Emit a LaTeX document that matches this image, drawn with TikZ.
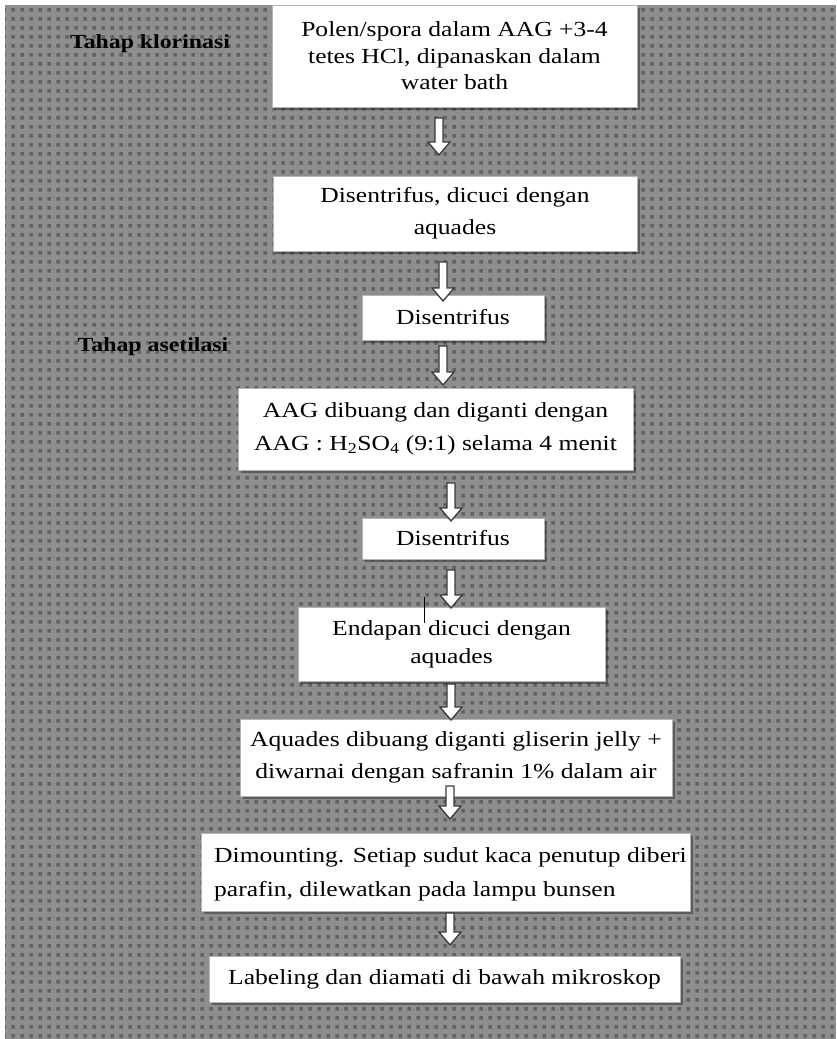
\documentclass[tikz,border=0pt]{standalone}
\usepackage{fontspec}
\setmainfont{Liberation Serif}[FakeStretch=1.19]
\usetikzlibrary{patterns,shadows}
\pgfdeclarepatternformonly{gdots}{\pgfpoint{0pt}{0pt}}{\pgfpoint{9pt}{9pt}}{\pgfpoint{9pt}{9pt}}{%
  \pgfpathrectangle{\pgfpoint{2.5pt}{2.5pt}}{\pgfpoint{4pt}{4pt}}\pgfusepath{fill}}
\definecolor{bggray}{HTML}{8E8E8E}
\definecolor{dotgray}{HTML}{626262}
\definecolor{edgegray}{HTML}{B5B5B5}
\definecolor{arrowgray}{HTML}{3A3A3A}
\tikzset{
  box/.style={draw=edgegray, line width=0.8pt, fill=white, inner sep=0pt,
    drop shadow={shadow xshift=3pt, shadow yshift=-3pt, fill=black, opacity=0.35}},
  boxtext/.style={align=center, inner sep=0pt, font=\fontsize{21.5}{30}\selectfont},
  phase/.style={inner sep=0pt, font=\bfseries\fontsize{20}{24}\selectfont},
  arrowline/.style={draw=arrowgray, line width=1.3pt, fill=white, line join=miter},
  pics/darrow/.style={code={
    \draw[arrowline] (-4,0) -- (4,0) -- (4,#1-13) -- (11,#1-13) -- (0,#1)
      -- (-11,#1-13) -- (-4,#1-13) -- cycle;
  }}
}
\begin{document}
\begin{tikzpicture}[x=1pt,y=-1pt]
\useasboundingbox (0,0) rectangle (836,1039);
\fill[white] (0,0) rectangle (836,1039);
\fill[bggray] (5,5) rectangle (836,1039);
\fill[pattern=gdots, pattern color=dotgray] (5,5) rectangle (836,1039);

% boxes
\node[box, minimum width=365, minimum height=102] (b1) at (454.5,56) {};
\node[box, minimum width=364, minimum height=75] (b2) at (455,213.5) {};
\node[box, minimum width=182, minimum height=45] (b3) at (453,317.5) {};
\node[box, minimum width=395, minimum height=82] (b4) at (435.5,429) {};
\node[box, minimum width=182, minimum height=41] (b5) at (453,538.5) {};
\node[box, minimum width=307, minimum height=74] (b6) at (451.5,644) {};
\node[box, minimum width=432, minimum height=77] (b7) at (456,757.5) {};
\node[box, minimum width=489, minimum height=78] (b8) at (445.5,872) {};
\node[box, minimum width=471, minimum height=46] (b9) at (444.5,979) {};

% texts
\node[boxtext, font=\fontsize{21.5}{26.5}\selectfont] (t1) at (b1.center) {Polen/spora dalam AAG +3-4\\tetes HCl, dipanaskan dalam\\water bath};
\node[boxtext, font=\fontsize{21.5}{32}\selectfont] (t2) at (b2.center) {Disentrifus, dicuci dengan\\aquades};
\node[boxtext] (t3) at (b3.center) {Disentrifus};
\node[boxtext, font=\fontsize{21.5}{33}\selectfont] (t4) at (b4.center) {AAG dibuang dan diganti dengan\\AAG : H\textsubscript{2}SO\textsubscript{4} (9:1) selama 4 menit};
\node[boxtext] (t5) at (b5.center) {Disentrifus};
\node[boxtext, font=\fontsize{21.5}{28}\selectfont] (t6) at (b6.center) {Endapan dicuci dengan\\aquades};
\node[boxtext, font=\fontsize{21.5}{32}\selectfont] (t7) at (b7.center) {Aquades dibuang diganti gliserin jelly +\\diwarnai dengan safranin 1\% dalam air};
\node[boxtext, align=left, anchor=west, font=\fontsize{21.5}{34}\selectfont] (t8) at (214,874) {Dimounting. Setiap sudut kaca penutup diberi\\parafin, dilewatkan pada lampu bunsen};
\node[boxtext] (t9) at (b9.center) {Labeling dan diamati di bawah mikroskop};

% phase labels
\node[phase] (p1) at (150,44) {Tahap klorinasi};
\node[phase] (p2) at (153,347) {Tahap asetilasi};

% block arrows
\pic at (439,118) {darrow=37};
\pic at (443,262) {darrow=39};
\pic at (443,346) {darrow=39};
\pic at (451,483) {darrow=38};
\pic at (451,570) {darrow=38};
\pic at (451,684) {darrow=36};
\pic at (450,786) {darrow=33};
\pic at (450,913) {darrow=32};

% stray cursor mark
\draw[black, line width=1.6pt] (424.5,597) -- (424.5,623);
\end{tikzpicture}
\end{document}
